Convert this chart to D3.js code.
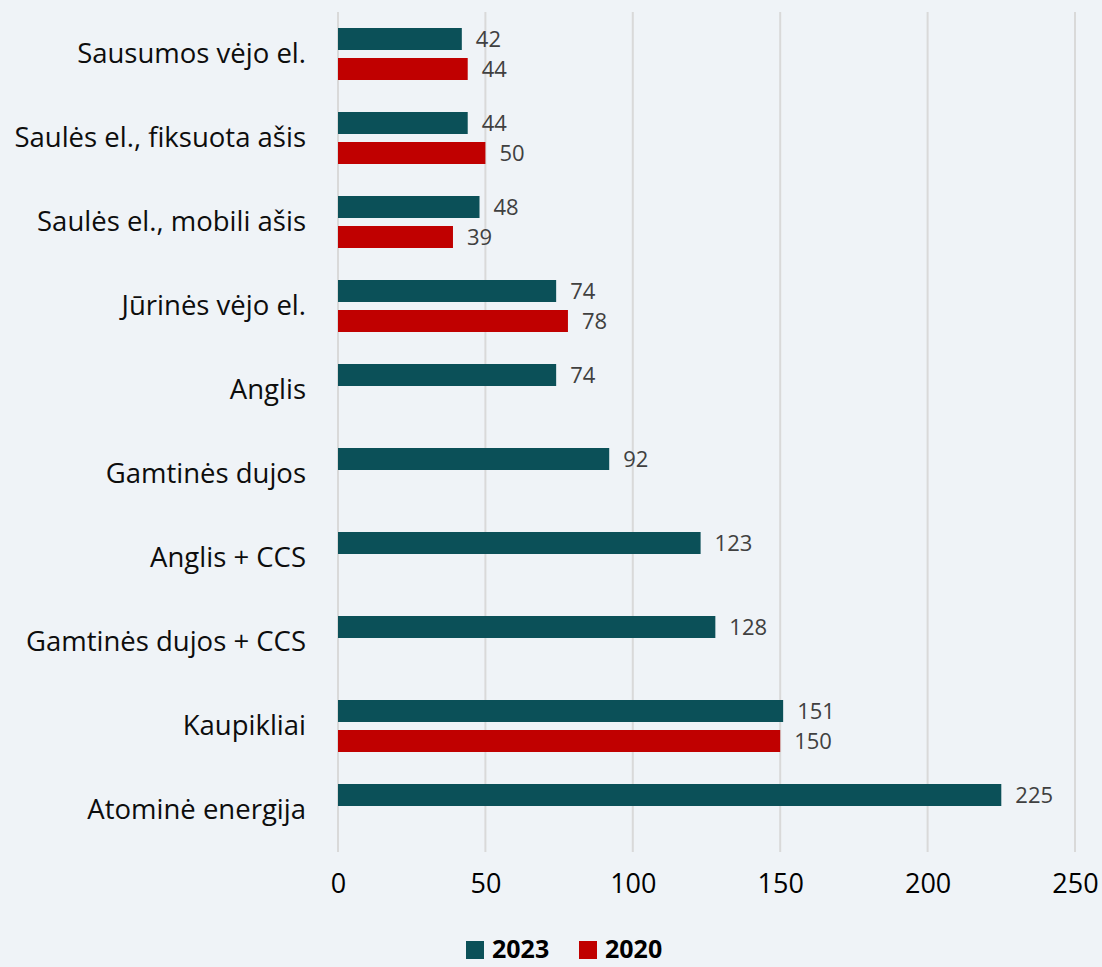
<!DOCTYPE html>
<html>
<head>
<meta charset="utf-8">
<script src="https://cdn.jsdelivr.net/npm/d3@7"></script>
<style>
  html, body { margin: 0; padding: 0; background: #eff3f7; }
  svg { display: block; }
  text { font-family: "Open Sans", "Noto Sans", sans-serif; }
</style>
</head>
<body>
<div id="chart"></div>
<script>
// chart data
const categories = [
    "Sausumos vėjo el.",
    "Saulės el., fiksuota ašis",
    "Saulės el., mobili ašis",
    "Jūrinės vėjo el.",
    "Anglis",
    "Gamtinės dujos",
    "Anglis + CCS",
    "Gamtinės dujos + CCS",
    "Kaupikliai",
    "Atominė energija"
];
const seriesNames = ["2023", "2020"];
const values2023 = [42, 44, 48, 74, 74, 92, 123, 128, 151, 225];
const values2020 = [44, 50, 39, 78, null, null, null, null, 150, null];
const xTicks = [0, 50, 100, 150, 200, 250];
const seriesColors = ["#0b5058", "#c00000"];

const width = 1102, height = 967;

const svg = d3.select('#chart')
    .append('svg')
    .attr('width', width)
    .attr('height', height);

const x = d3.scaleLinear().domain([0, 250]).range([338, 1075]);
const y = d3.scaleBand().domain(categories).range([12, 852]);
const ySub = d3.scaleBand().domain(seriesNames).range([16, 68]).paddingInner(0.2667);
const color = d3.scaleOrdinal().domain(seriesNames).range(seriesColors);

// gridlines
svg.append('g')
    .selectAll('line')
    .data(xTicks)
    .join('line')
    .attr('x1', d => x(d)).attr('x2', d => x(d))
    .attr('y1', 12).attr('y2', 852)
    .attr('stroke', '#d9d9d9')
    .attr('stroke-width', 2);

// x axis labels
const xAxis = svg.append('g')
    .attr('transform', 'translate(0,852)')
    .call(d3.axisBottom(x).tickValues(xTicks).tickSize(0).tickPadding(22));
xAxis.select('.domain').remove();
xAxis.selectAll('text')
    .attr('font-size', 27)
    .attr('fill', '#000')
    .style('font-family', '"Open Sans", sans-serif');

// category labels
const yAxis = svg.append('g')
    .attr('transform', 'translate(338,0)')
    .call(d3.axisLeft(y).tickSize(0).tickPadding(32));
yAxis.select('.domain').remove();
yAxis.selectAll('text')
    .attr('font-size', 27.5)
    .attr('fill', '#0d0d0d')
    .style('font-family', '"Open Sans", sans-serif');

// bars
const rows = categories.map((c, i) => ({
    category: c,
    items: [
        { series: "2023", value: values2023[i] },
        { series: "2020", value: values2020[i] }
    ].filter(d => d.value != null)
}));

const group = svg.append('g')
    .selectAll('g')
    .data(rows)
    .join('g')
    .attr('transform', d => `translate(0,${y(d.category)})`);

group.selectAll('rect')
    .data(d => d.items)
    .join('rect')
    .attr('x', x(0))
    .attr('y', d => ySub(d.series))
    .attr('width', d => x(d.value) - x(0))
    .attr('height', ySub.bandwidth())
    .attr('fill', d => color(d.series));

group.selectAll('text')
    .data(d => d.items)
    .join('text')
    .attr('x', d => x(d.value) + 14)
    .attr('y', d => ySub(d.series) + ySub.bandwidth() / 2)
    .attr('dy', '0.36em')
    .attr('font-size', 22)
    .attr('fill', '#404040')
    .text(d => d.value);

// legend
const legend = svg.append('g')
    .attr('transform', 'translate(466,0)');
const legendOffsets = [0, 113];
seriesNames.forEach((s, i) => {
    const g = legend.append('g').attr('transform', `translate(${legendOffsets[i]},0)`);
    g.append('rect')
        .attr('x', 0).attr('y', 941)
        .attr('width', 18).attr('height', 18)
        .attr('fill', color(s));
    g.append('text')
        .attr('x', 26).attr('y', 958)
        .attr('font-size', 25)
        .attr('font-weight', 'bold')
        .attr('fill', '#000')
        .text(s);
});
</script>
</body>
</html>
